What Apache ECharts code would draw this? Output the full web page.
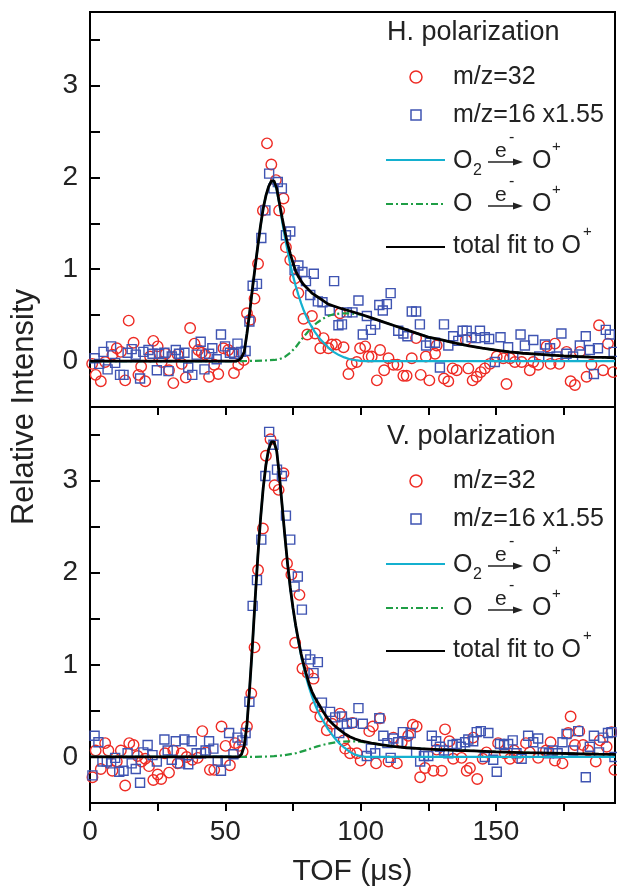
<!DOCTYPE html>
<html>
<head>
<meta charset="utf-8">
<script src="https://cdn.jsdelivr.net/npm/echarts@6/dist/echarts.min.js"></script>
<style>
  html, body { margin: 0; padding: 0; background: #fff; }
  #chart { width: 617px; height: 889px; }
</style>
</head>
<body>
<div id="chart"></div>
<script>
// ---- data (TOF in us, relative intensity) ----
// H. polarization (upper panel)
var hM32 = [[0.8,-0.03],[2.1,-0.15],[4.0,-0.22],[5.6,-0.01],[8.3,0.07],[9.9,0.14],[11.4,0.10],[13.0,-0.21],[14.3,0.44],[16.1,0.20],[17.9,-0.15],[18.9,-0.06],[20.4,-0.22],[22.2,0.05],[23.4,0.22],[25.0,0.16],[26.5,-0.01],[28.0,0.08],[29.2,-0.10],[30.8,-0.24],[32.4,0.07],[33.9,-0.03],[35.4,-0.18],[37.0,0.36],[38.6,0.19],[40.0,0.12],[41.3,0.09],[42.5,0.07],[44.0,-0.17],[45.9,-0.04],[47.4,-0.14],[49.3,0.14],[51.1,0.12],[52.6,0.09],[53.2,-0.13],[54.8,-0.04],[56.8,0.01],[58.0,0.52],[59.2,0.45],[60.8,0.68],[62.1,1.06],[63.9,1.64],[65.4,2.37],[67.0,2.14],[68.7,1.97],[69.9,1.64],[71.5,1.77],[72.4,1.24],[74.0,1.10],[75.8,0.90],[77.0,0.74],[78.9,0.46],[80.3,0.29],[82.0,0.49],[83.2,0.30],[85.1,0.14],[86.3,0.25],[88.1,0.14],[89.4,0.18],[90.9,0.18],[92.4,0.52],[93.7,0.15],[95.5,-0.14],[96.7,-0.03],[98.6,-0.01],[99.8,0.14],[101.7,0.16],[102.9,0.05],[104.1,0.05],[106.0,-0.21],[107.2,0.12],[108.7,-0.10],[110.3,0.03],[112.1,-0.04],[113.6,-0.04],[115.8,-0.16],[117.0,-0.16],[118.9,0.03],[120.5,0.25],[122.2,-0.15],[124.1,0.05],[125.4,-0.21],[127.5,0.08],[128.1,0.17],[130.8,-0.19],[132.4,-0.22],[134.0,-0.08],[135.5,-0.10],[138.9,0.23],[139.8,-0.08],[141.4,-0.21],[142.9,-0.17],[144.4,-0.12],[145.9,-0.08],[147.8,-0.03],[150.3,0.05],[152.7,0.03],[153.9,-0.25],[155.2,0.03],[157.0,-0.01],[159.5,-0.01],[162.5,-0.10],[163.8,-0.01],[165.6,-0.04],[168.7,0.16],[170.2,-0.03],[171.8,0.19],[173.4,-0.03],[176.1,0.10],[177.6,-0.22],[179.2,-0.26],[181.0,0.10],[183.5,-0.17],[185.3,-0.04],[188.1,0.39],[189.6,-0.10],[191.4,0.19],[193.3,-0.12]];
var hM16 = [[1.7,0.03],[3.4,-0.03],[5.0,0.10],[6.5,-0.09],[7.8,0.16],[9.3,-0.02],[11.1,-0.15],[12.4,-0.15],[13.9,0.09],[15.4,0.13],[16.9,0.07],[18.5,-0.19],[19.7,0.10],[21.6,0.12],[23.1,0.08],[24.7,-0.10],[25.5,0.08],[27.5,0.09],[29.0,-0.11],[30.2,0.05],[31.7,0.12],[32.9,0.08],[34.9,0.09],[36.3,-0.07],[37.8,-0.15],[39.4,0.07],[40.9,0.21],[42.3,-0.09],[44.0,0.08],[45.2,0.14],[46.8,0.02],[48.4,0.29],[49.9,0.16],[51.7,0.09],[53.3,0.08],[54.5,0.19],[55.8,0.10],[57.5,0.11],[58.9,0.43],[60.1,0.82],[61.7,0.84],[63.3,1.34],[64.8,1.64],[66.2,2.04],[67.8,1.88],[69.4,1.95],[70.9,1.88],[72.4,1.37],[74.0,1.41],[75.6,0.99],[77.0,1.04],[78.5,0.97],[79.8,0.87],[81.4,0.72],[82.7,0.95],[84.2,0.65],[85.9,0.64],[88.6,0.55],[90.2,0.87],[91.8,0.39],[93.1,0.40],[94.9,0.53],[97.0,0.53],[99.2,0.66],[100.8,0.29],[102.3,0.49],[103.8,0.34],[105.4,0.40],[106.9,0.61],[108.2,0.55],[109.7,0.62],[111.1,0.74],[113.9,0.33],[115.8,0.30],[117.3,0.27],[118.9,0.54],[120.5,0.54],[121.9,0.40],[124.2,0.17],[125.6,0.20],[127.5,0.20],[129.3,-0.07],[130.8,0.40],[132.4,0.17],[134.2,0.27],[136.1,0.22],[137.7,0.33],[139.2,0.33],[141.0,0.26],[142.6,0.25],[144.1,0.33],[145.9,0.26],[147.5,0.24],[149.6,-0.01],[151.7,0.26],[154.5,0.15],[156.4,0.05],[159.1,0.29],[160.7,0.17],[163.8,0.23],[166.0,0.05],[168.1,0.18],[170.0,0.14],[172.4,0.05],[174.2,0.30],[176.1,0.08],[178.5,0.05],[181.0,0.17],[183.2,0.27],[184.7,0.12],[186.2,-0.14],[187.7,0.14],[190.6,0.34],[192.1,0.29],[193.5,0.10]];
var hO2 = [[0,0],[54,0],[55,0.01],[56,0.04],[57,0.1],[58,0.3],[59,0.53],[60,0.78],[61,1.02],[62,1.25],[63,1.47],[64,1.66],[65,1.8],[66,1.9],[67,1.96],[67.5,1.97],[68,1.95],[69,1.86],[70,1.7],[71,1.52],[72,1.35],[73,1.2],[74,1.05],[75,0.93],[76,0.82],[77,0.72],[78,0.63],[79,0.55],[80,0.48],[81,0.42],[82,0.37],[83,0.32],[84,0.28],[85,0.24],[86,0.21],[87,0.18],[88,0.15],[89,0.125],[90,0.1],[92,0.065],[94,0.04],[96,0.02],[98,0.01],[100,0.003],[102,0],[194,0]];
var hO = [[0,0],[56,0],[60,0.002],[64,0.005],[68,0.012],[70,0.02],[72,0.045],[74,0.09],[76,0.15],[78,0.23],[80,0.3],[82,0.37],[84,0.42],[86,0.46],[88,0.49],[90,0.51],[93,0.52],[96,0.52],[100,0.505],[104,0.47],[108,0.43],[112,0.39],[116,0.35],[120,0.31],[125,0.26],[130,0.23],[135,0.195],[140,0.165],[145,0.14],[150,0.12],[155,0.1],[160,0.085],[165,0.075],[170,0.065],[175,0.057],[180,0.05],[185,0.044],[190,0.04],[194,0.036]];
var hTotal = [[0,0],[54,0],[55,0.01],[56,0.04],[57,0.1],[58,0.3],[59,0.53],[60,0.78],[61,1.02],[62,1.25],[63,1.47],[64,1.66],[65,1.8],[66,1.9],[67,1.96],[67.5,1.97],[68,1.96],[69,1.88],[70,1.72],[71,1.56],[72,1.41],[73,1.28],[74,1.17],[75,1.07],[76,0.98],[77,0.92],[78,0.87],[79,0.83],[80,0.8],[82,0.74],[84,0.7],[86,0.66],[88,0.62],[90,0.6],[93,0.57],[96,0.545],[100,0.51],[104,0.47],[108,0.43],[112,0.39],[116,0.35],[120,0.31],[125,0.26],[130,0.23],[135,0.195],[140,0.165],[145,0.14],[150,0.12],[155,0.1],[160,0.085],[165,0.075],[170,0.065],[175,0.057],[180,0.05],[185,0.044],[190,0.04],[194,0.036]];

// V. polarization (lower panel)
var vM32 = [[0.9,-0.22],[2.1,0.07],[4.0,-0.13],[5.6,0.15],[6.8,0.07],[8.3,-0.15],[9.9,-0.05],[11.4,0.07],[13.0,-0.31],[14.5,0.15],[16.1,0.13],[17.6,0.01],[19.1,-0.05],[20.4,-0.02],[21.8,-0.10],[23.4,-0.25],[25.0,-0.19],[26.3,-0.24],[27.7,0.04],[29.2,-0.17],[30.8,0.07],[32.4,-0.07],[33.9,0.04],[35.7,0.0],[37.8,-0.03],[39.8,-0.01],[41.5,0.28],[42.7,0.05],[44.3,-0.14],[45.9,-0.14],[48.6,0.33],[50.1,0.12],[51.7,-0.09],[53.6,0.15],[55.1,0.12],[56.4,0.06],[58.0,0.33],[59.6,0.69],[60.8,1.19],[62.1,2.03],[63.9,2.48],[65.0,3.27],[66.7,3.45],[68.2,2.95],[69.7,2.90],[71.5,3.08],[72.8,2.10],[74.4,1.98],[75.8,1.24],[77.4,1.76],[78.5,0.96],[80.5,0.91],[82.6,0.85],[83.2,0.54],[85.1,0.44],[87.5,0.29],[89.4,0.36],[92.4,0.47],[93.7,0.18],[94.3,0.09],[96.1,0.04],[97.0,0.37],[98.6,0.04],[100.0,-0.04],[103.2,0.28],[104.5,0.33],[105.7,-0.07],[107.2,0.42],[110.3,-0.05],[112.1,0.21],[113.4,-0.07],[115.2,0.16],[117.6,0.23],[119.3,0.35],[120.7,0.33],[122.0,-0.22],[123.8,-0.12],[126.9,-0.15],[128.1,0.08],[130.0,-0.15],[131.2,0.30],[132.8,0.17],[134.2,-0.02],[137.3,-0.01],[139.2,-0.15],[140.4,-0.12],[141.6,0.21],[143.1,-0.24],[145.1,-0.02],[146.5,0.05],[150.8,0.15],[153.3,0.04],[155.2,-0.02],[156.7,0.07],[158.2,-0.01],[161.1,0.15],[162.5,0.05],[165.6,-0.01],[168.5,0.07],[170.2,0.16],[171.8,-0.04],[174.6,-0.07],[176.7,0.26],[177.6,0.44],[179.2,0.13],[180.8,0.28],[182.2,0.13],[184.1,0.07],[186.9,-0.05],[188.4,0.18],[190.9,0.11],[192.7,0.27],[193.8,-0.14]];
var vM16 = [[0.9,-0.20],[1.7,0.23],[3.1,0.16],[4.6,-0.05],[6.2,-0.05],[7.8,-0.07],[9.3,-0.01],[10.8,-0.16],[12.4,-0.15],[13.9,0.04],[15.4,-0.07],[16.9,-0.13],[18.5,-0.28],[19.7,0.05],[21.3,0.13],[23.1,0.02],[24.7,-0.05],[27.5,0.19],[28.7,0.07],[30.2,-0.03],[31.7,0.17],[33.3,-0.07],[34.9,0.19],[36.3,-0.08],[37.6,0.17],[39.4,0.04],[41.0,0.04],[42.7,0.07],[44.0,0.17],[45.6,0.09],[47.2,-0.04],[48.4,-0.15],[50.1,-0.04],[51.4,0.26],[53.0,0.03],[54.5,0.21],[56.3,0.18],[57.5,0.26],[58.9,0.60],[60.1,1.64],[61.7,1.92],[63.3,2.36],[64.8,3.05],[66.2,3.53],[67.8,3.39],[69.1,3.12],[70.9,3.05],[72.4,2.62],[74.0,2.36],[75.6,1.85],[76.8,1.96],[78.3,1.60],[79.8,1.11],[81.4,1.06],[82.6,0.91],[84.2,1.03],[85.7,0.59],[88.7,0.49],[90.6,0.43],[92.1,0.26],[93.1,0.44],[94.9,0.36],[96.8,0.37],[99.2,0.53],[100.8,0.36],[102.3,0.01],[103.8,0.09],[105.4,0.04],[106.9,0.42],[108.4,0.23],[109.9,0.15],[111.1,-0.01],[112.1,0.20],[113.9,0.16],[115.6,0.27],[117.0,0.15],[118.5,0.26],[120.5,0.05],[122.0,-0.05],[123.4,0.01],[125.0,0.01],[126.3,0.23],[127.9,0.17],[129.3,0.11],[130.8,0.07],[132.4,0.04],[134.0,0.13],[135.5,0.14],[137.0,0.11],[138.6,0.16],[139.8,0.19],[141.6,0.17],[142.9,0.27],[144.4,0.28],[145.9,0.0],[147.2,0.26],[149.0,-0.03],[150.3,-0.16],[151.5,0.14],[153.0,0.13],[154.5,0.14],[156.2,0.18],[157.6,0.04],[159.5,-0.02],[161.9,0.23],[163.8,0.16],[165.6,0.20],[167.3,0.05],[169.6,0.04],[171.0,0.07],[172.8,0.04],[174.6,0.16],[176.1,0.25],[178.5,0.07],[180.4,0.28],[183.2,-0.22],[184.7,0.11],[186.2,0.23],[188.1,0.05],[189.6,0.21],[191.4,0.26],[192.7,0.27],[193.8,0.0]];
var vO2 = [[0,0],[55,0],[56,0.03],[57,0.12],[58,0.35],[59,0.75],[60,1.2],[61,1.7],[62,2.17],[63,2.58],[64,2.92],[65,3.17],[66,3.34],[67,3.42],[67.6,3.44],[68,3.42],[69,3.32],[70,3.05],[71,2.73],[72,2.4],[73,2.1],[74,1.84],[75,1.61],[76,1.42],[77,1.25],[78,1.1],[79,0.97],[80,0.85],[81,0.75],[82,0.66],[83,0.58],[84,0.51],[85,0.45],[86,0.4],[88,0.3],[90,0.22],[92,0.15],[94,0.1],[96,0.055],[98,0.025],[100,0.008],[102,0],[194,0]];
var vO = [[0,0],[56,0],[64,0.003],[68,0.008],[72,0.02],[76,0.04],[80,0.075],[84,0.115],[88,0.145],[92,0.165],[96,0.17],[98,0.17],[100,0.165],[104,0.15],[108,0.13],[112,0.115],[117,0.1],[122,0.09],[127,0.083],[135,0.072],[142,0.065],[150,0.056],[160,0.048],[170,0.042],[180,0.035],[188,0.03],[194,0.027]];
var vTotal = [[0,0],[55,0],[56,0.03],[57,0.12],[58,0.35],[59,0.75],[60,1.2],[61,1.7],[62,2.17],[63,2.58],[64,2.92],[65,3.17],[66,3.34],[67,3.42],[67.6,3.44],[68,3.42],[69,3.32],[70,3.05],[71,2.73],[72,2.4],[73,2.1],[74,1.84],[75,1.62],[76,1.43],[77,1.27],[78,1.12],[79,1.0],[80,0.89],[81,0.79],[82,0.71],[83,0.65],[84,0.6],[85,0.55],[86,0.5],[88,0.41],[90,0.35],[92,0.3],[94,0.255],[96,0.22],[98,0.195],[100,0.175],[104,0.15],[108,0.13],[112,0.115],[117,0.1],[122,0.09],[127,0.083],[135,0.072],[142,0.065],[150,0.056],[160,0.048],[170,0.042],[180,0.035],[188,0.03],[194,0.027]];

// ticks / labels
var xTicks = [0, 25, 50, 75, 100, 125, 150, 175];
var xLabels = [0, 50, 100, 150];
var yTicks = [0, 0.5, 1, 1.5, 2, 2.5, 3, 3.5];
var yLabels = [0, 1, 2, 3];

var FONT = 'Liberation Sans, Arial, Helvetica, sans-serif';
var RED = '#ee2b24', BLUE = '#3f54b2', CYAN = '#14b0cf', GREEN = '#1f9e45', INK = '#222';

var chart = echarts.init(document.getElementById('chart'), null, { renderer: 'canvas' });

function xAxisFor(idx, showLabels) {
  return {
    type: 'value', gridIndex: idx, min: 0, max: 194,
    axisLine: { show: true, onZero: false, lineStyle: { color: '#000', width: 2 } },
    axisTick: { show: true, customValues: xTicks, length: 8, lineStyle: { color: '#000', width: 2 } },
    axisLabel: { show: showLabels, customValues: xLabels, fontSize: 28, fontFamily: FONT, color: INK, margin: 15 },
    splitLine: { show: false },
    name: showLabels ? 'TOF (\u03bcs)' : '',
    nameLocation: 'middle', nameGap: 54,
    nameTextStyle: { fontSize: 30, fontFamily: FONT, color: INK }
  };
}
function yAxisFor(idx) {
  return {
    type: 'value', gridIndex: idx, min: -0.5, max: 3.8,
    axisLine: { show: true, onZero: false, lineStyle: { color: '#000', width: 2 } },
    axisTick: { show: true, inside: true, customValues: yTicks, length: 10, lineStyle: { color: '#000', width: 2 } },
    axisLabel: { customValues: yLabels, fontSize: 28, fontFamily: FONT, color: INK, margin: 12 },
    splitLine: { show: false }
  };
}
function scatter(data, idx, isCircle) {
  return {
    type: 'scatter', xAxisIndex: idx, yAxisIndex: idx, data: data,
    symbol: isCircle ? 'circle' : 'rect', symbolSize: isCircle ? 10.5 : 9,
    itemStyle: { color: 'rgba(0,0,0,0)', borderColor: isCircle ? RED : BLUE, borderWidth: 1.4, opacity: 1 },
    silent: true
  };
}
function fit(data, idx, color, width, dash) {
  return {
    type: 'line', xAxisIndex: idx, yAxisIndex: idx, data: data,
    showSymbol: false, silent: true,
    lineStyle: { color: color, width: width, type: dash || 'solid' }
  };
}

function legend(title, dy) {
  function txt(x, y, s, size, align) {
    return { type: 'text', x: x, y: y + dy, silent: true,
      style: { text: s, fontSize: size, fontFamily: FONT, fill: INK, align: align || 'left', verticalAlign: 'middle' } };
  }
  function arrow(y) {
    return [
      { type: 'line', silent: true, shape: { x1: 488, y1: y + dy, x2: 516, y2: y + dy }, style: { stroke: INK, lineWidth: 1.5 } },
      { type: 'polygon', silent: true, shape: { points: [[513, y + dy - 3.5], [523, y + dy], [513, y + dy + 3.5]] }, style: { fill: INK } }
    ];
  }
  var els = [
    txt(387, 33, title, 27),
    { type: 'circle', silent: true, shape: { cx: 416, cy: 77 + dy, r: 6 }, style: { fill: 'none', stroke: RED, lineWidth: 1.5 } },
    txt(453, 77, 'm/z=32', 25),
    { type: 'rect', silent: true, shape: { x: 411, y: 110 + dy, width: 10, height: 10 }, style: { fill: 'none', stroke: BLUE, lineWidth: 1.5 } },
    txt(453, 115, 'm/z=16 x1.55', 25),
    { type: 'line', silent: true, shape: { x1: 386, y1: 160 + dy, x2: 445, y2: 160 + dy }, style: { stroke: CYAN, lineWidth: 2 } },
    txt(453, 161, 'O', 25), txt(473, 171, '2', 16),
    txt(495, 151, 'e', 21), txt(509, 138, '-', 16),
    txt(532, 161, 'O', 25), txt(552, 147, '+', 15),
    { type: 'line', silent: true, shape: { x1: 386, y1: 204 + dy, x2: 443, y2: 204 + dy }, style: { stroke: GREEN, lineWidth: 2, lineDash: [7, 3, 2, 3] } },
    txt(453, 204, 'O', 25),
    txt(495, 195, 'e', 21), txt(509, 182, '-', 16),
    txt(532, 204, 'O', 25), txt(552, 190, '+', 15),
    { type: 'line', silent: true, shape: { x1: 386, y1: 247 + dy, x2: 445, y2: 247 + dy }, style: { stroke: '#000', lineWidth: 2 } },
    txt(453, 246, 'total fit to O', 25), txt(583, 232, '+', 15)
  ];
  return els.concat(arrow(162), arrow(206));
}

var option = {
  animation: false,
  backgroundColor: '#fff',
  grid: [
    { left: 90, top: 12, width: 525, height: 395, show: true, borderColor: '#000', borderWidth: 2, backgroundColor: 'transparent' },
    { left: 90, top: 407, width: 525, height: 396, show: true, borderColor: '#000', borderWidth: 2, backgroundColor: 'transparent' }
  ],
  xAxis: [xAxisFor(0, false), xAxisFor(1, true)],
  yAxis: [yAxisFor(0), yAxisFor(1)],
  series: [
    scatter(hM32, 0, true), scatter(hM16, 0, false),
    fit(hO, 0, GREEN, 2.2, [7, 3, 2, 3]), fit(hO2, 0, CYAN, 2.2), fit(hTotal, 0, '#000', 2.8),
    scatter(vM32, 1, true), scatter(vM16, 1, false),
    fit(vO, 1, GREEN, 2.2, [7, 3, 2, 3]), fit(vO2, 1, CYAN, 2.2), fit(vTotal, 1, '#000', 2.8)
  ],
  graphic: [
    { type: 'text', x: 24, y: 407, rotation: Math.PI / 2, silent: true,
      style: { text: 'Relative Intensity', fontSize: 31, fontFamily: FONT, fill: INK, align: 'center', verticalAlign: 'middle' } }
  ].concat(legend('H. polarization', 0), legend('V. polarization', 404))
};

chart.setOption(option);
</script>
</body>
</html>
